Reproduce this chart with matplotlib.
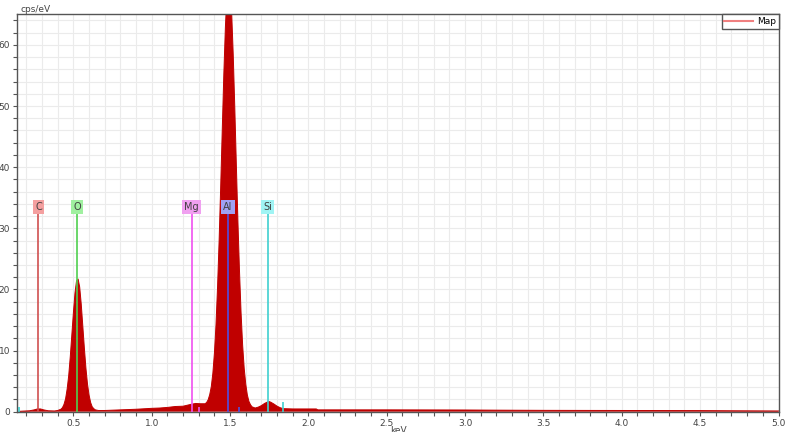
import matplotlib
matplotlib.use("Agg")
from matplotlib import pyplot as plt
from matplotlib.lines import Line2D
from matplotlib.ticker import MultipleLocator, FormatStrFormatter

# spectrum (keV, cps/eV)
energy = [0.15, 0.18, 0.22, 0.25, 0.27, 0.29, 0.31, 0.34, 0.38, 0.40,
          0.42, 0.43, 0.44, 0.45, 0.46, 0.47, 0.48, 0.49, 0.50, 0.51,
          0.52, 0.53, 0.54, 0.55, 0.56, 0.57, 0.58, 0.59, 0.60, 0.61,
          0.62, 0.63, 0.64, 0.66, 0.70, 0.80, 0.90, 1.00, 1.05, 1.10,
          1.15, 1.20, 1.25, 1.28, 1.31, 1.34, 1.35, 1.36, 1.37, 1.38,
          1.39, 1.40, 1.41, 1.42, 1.43, 1.44, 1.45, 1.46, 1.47, 1.48,
          1.49, 1.50, 1.51, 1.52, 1.53, 1.54, 1.55, 1.56, 1.57, 1.58,
          1.59, 1.60, 1.61, 1.62, 1.63, 1.64, 1.66, 1.68, 1.70, 1.72,
          1.74, 1.75, 1.76, 1.78, 1.80, 1.82, 1.84, 1.90, 2.00, 2.05,
          2.06, 2.50, 3.00, 3.20, 3.50, 4.00, 4.50, 4.70, 5.00]
cps = [0.05, 0.1, 0.15, 0.3, 0.45, 0.45, 0.3, 0.15, 0.12, 0.2,
       0.4, 0.66, 1.2, 2.1, 3.7, 5.9, 9.0, 12.6, 16.2, 19.4,
       21.4, 21.7, 20.4, 17.6, 14.0, 10.4, 7.1, 4.5, 2.7, 1.5,
       0.8, 0.5, 0.3, 0.2, 0.2, 0.3, 0.4, 0.55, 0.6, 0.7,
       0.85, 0.9, 1.2, 1.35, 1.3, 1.3, 1.5, 1.95, 2.8, 4.1,
       6.3, 9.6, 14.2, 20.4, 28.0, 36.8, 46.1, 55.2, 62.9, 68.4,
       70.8, 69.6, 65.3, 58.4, 49.7, 40.3, 31.1, 23.0, 16.2, 10.9,
       7.1, 4.5, 2.75, 1.7, 1.15, 0.8, 0.6, 0.75, 1.0, 1.35,
       1.6, 1.65, 1.55, 1.25, 0.9, 0.65, 0.5, 0.45, 0.45, 0.45,
       0.3, 0.3, 0.28, 0.25, 0.22, 0.2, 0.18, 0.15, 0.12]

# element markers
elements = ["C", "O", "Mg", "Al", "Si"]
element_kev = [0.277, 0.525, 1.254, 1.487, 1.740]
line_colors = ["#d05050", "#50d050", "#f050f0", "#5050e0", "#40d0d0"]
box_colors = ["#f4a0a0", "#a0f0a0", "#f0a0f0", "#a0a0f4", "#a0f4f4"]

# small escape / sum markers
extra_kev = [0.155, 1.30, 1.56, 1.84]
extra_height = [0.8, 0.7, 0.7, 1.6]
extra_colors = ["#40d0d0", "#f050f0", "#5050e0", "#40d0d0"]

fig = plt.figure(figsize=(7.96, 4.32), dpi=100)
ax = fig.add_axes([17 / 796, 20.3 / 432, 761.5 / 796, 397.4 / 432])

ax.fill_between(energy, cps, 0, color="#c00000", lw=0, zorder=2)
ax.plot(energy, cps, color="#c00000", lw=0.7, zorder=2)

ax.vlines(element_kev, 0, 32.6, colors=line_colors, lw=1.2, zorder=3)
for name, x, bc in zip(elements, element_kev, box_colors):
    ax.text(x, 33.5, name, ha="center", va="center", fontsize=7, color="#404040",
            bbox=dict(boxstyle="square,pad=0.22", fc=bc, ec="none"), zorder=4)
ax.vlines(extra_kev, 0, extra_height, colors=extra_colors, lw=1.2, zorder=3)

ax.set_xlim(0.14, 5.0)
ax.set_ylim(0, 65)
ax.xaxis.set_major_locator(MultipleLocator(0.5))
ax.xaxis.set_minor_locator(MultipleLocator(0.1))
ax.xaxis.set_major_formatter(FormatStrFormatter("%.1f"))
ax.yaxis.set_major_locator(MultipleLocator(10))
ax.yaxis.set_minor_locator(MultipleLocator(2))
ax.tick_params(which="both", direction="out", length=3, width=0.8, color="#555555",
               labelsize=6.5, labelcolor="#444444", pad=2)
ax.grid(which="both", color="#ebebeb", lw=0.8, zorder=0)
ax.set_axisbelow(True)
for s in ax.spines.values():
    s.set_color("#555555")
    s.set_linewidth(1)

ax.text(0.005, 1.002, "cps/eV", transform=ax.transAxes, ha="left", va="bottom",
        fontsize=6.5, color="#444444")
fig.text(0.5, 6 / 432, "keV", ha="center", va="top", fontsize=6.5, color="#444444")

leg = ax.legend(handles=[Line2D([], [], color="#f08080", lw=1.5)], labels=["Map"],
                loc="upper right", borderaxespad=0, fancybox=False, fontsize=6.5,
                handlelength=3.2, borderpad=0.3, handletextpad=0.4)
leg.get_frame().set_edgecolor("#555555")
leg.get_frame().set_linewidth(1)
leg.get_frame().set_alpha(1)

fig.savefig("out.png", dpi=100)
